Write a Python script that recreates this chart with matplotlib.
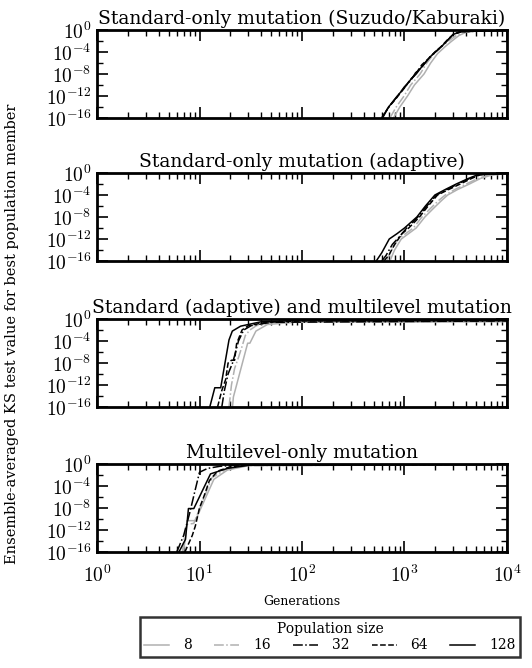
import numpy as np
import matplotlib
matplotlib.use("Agg")
import matplotlib.pyplot as plt
from matplotlib.lines import Line2D
from matplotlib.ticker import FixedLocator, NullFormatter, LogLocator, FuncFormatter

plt.rcParams['font.family'] = ['DejaVu Serif']
plt.rcParams['mathtext.fontset'] = 'cm'

# ---------------- data (generations, log10 of KS value) ----------------
pop_sizes = [8, 16, 32, 64, 128]
titles = ["Standard-only mutation (Suzudo/Kaburaki)",
          "Standard-only mutation (adaptive)",
          "Standard (adaptive) and multilevel mutation",
          "Multilevel-only mutation"]

# Panel 1: Standard-only (Suzudo/Kaburaki)
p1_gen_8 = [780, 900, 1070, 1250, 1550, 1800, 2100, 2500, 2900, 3400, 4000, 5000, 10000]
p1_log_8 = [-16, -14, -12, -10, -8, -6, -4.3, -3, -2, -1, -0.4, -0.15, -0.05]
p1_gen_16 = [720, 830, 990, 1150, 1420, 1650, 1950, 2300, 2700, 3200, 3800, 4800, 10000]
p1_log_16 = [-16, -14, -12, -10, -8, -6, -4.3, -3, -2, -1, -0.4, -0.15, -0.05]
p1_gen_32 = [610, 700, 860, 1000, 1150, 1280, 1500, 1750, 2000, 2300, 2650, 3000, 3600, 10000]
p1_log_32 = [-16, -14, -12, -10.3, -9.2, -7.8, -6.6, -5, -4, -3, -1.8, -0.8, -0.3, -0.05]
p1_gen_64 = [600, 690, 840, 990, 1140, 1260, 1480, 1720, 1980, 2280, 2620, 2980, 3550, 10000]
p1_log_64 = [-16, -14.2, -12.3, -10.6, -9.0, -8.2, -6.3, -5.2, -4, -3, -1.8, -0.8, -0.3, -0.05]
p1_gen_128 = [600, 700, 850, 1000, 1150, 1300, 1500, 1750, 2000, 2300, 2650, 3000, 3500, 10000]
p1_log_128 = [-16, -14, -12, -10.5, -9, -8, -6.5, -5, -4, -3, -1.8, -0.8, -0.3, -0.05]

# Panel 2: Standard-only (adaptive)
p2_gen_8 = [720, 800, 930, 1100, 1300, 1580, 1900, 2300, 2640, 3300, 4300, 5500, 7000, 10000]
p2_log_8 = [-16, -14, -12, -11, -10, -8, -6.5, -5, -4, -3, -2, -1, -0.4, -0.1]
p2_gen_16 = [670, 750, 870, 1030, 1220, 1480, 1780, 2150, 2500, 3100, 4000, 5200, 6600, 10000]
p2_log_16 = [-16, -14, -12, -11, -10, -8, -6.5, -5, -4, -3, -2, -1, -0.4, -0.1]
p2_gen_32 = [600, 660, 760, 900, 1050, 1350, 1650, 2050, 2600, 3300, 4300, 5300, 10000]
p2_log_32 = [-16, -15, -13, -11.5, -10, -8, -6, -4, -3, -2, -1, -0.3, -0.05]
p2_gen_64 = [630, 700, 800, 950, 1100, 1400, 1700, 2100, 2700, 3500, 4500, 5500, 10000]
p2_log_64 = [-16, -15, -13, -11, -10, -8, -6, -4, -3, -2, -1, -0.3, -0.05]
p2_gen_128 = [530, 600, 710, 850, 1000, 1320, 1600, 1980, 2500, 3200, 4200, 5200, 10000]
p2_log_128 = [-16, -14.5, -12, -11, -10, -8, -6, -4, -3, -2, -1, -0.3, -0.05]

# Panel 3: Standard (adaptive) and multilevel
p3_gen_8 = [21, 21.4, 29.5, 31, 35.5, 46, 84, 10000]
p3_log_8 = [-16, -14.2, -4.4, -4.4, -2.2, -1, -0.6, -0.5]
p3_gen_16 = [19.4, 20.5, 22, 24, 26, 28, 31, 36, 55, 10000]
p3_log_16 = [-16, -12, -9, -7, -5, -3, -2, -1.2, -0.6, -0.4]
p3_gen_32 = [16.5, 17.5, 19, 21, 22.5, 24, 27, 32, 50, 10000]
p3_log_32 = [-16, -13, -10, -8, -6, -4, -2, -1.2, -0.6, -0.35]
p3_gen_64 = [15, 16.5, 18, 19, 20.5, 22, 23, 26, 30, 45, 100, 10000]
p3_log_64 = [-16, -13, -11, -8, -7.5, -7.5, -4.5, -2, -1.2, -0.6, -0.35, -0.3]
p3_gen_128 = [12.6, 14.1, 16.1, 19.4, 20.9, 25.2, 40, 80, 10000]
p3_log_128 = [-16, -12.5, -12.5, -3.8, -2.2, -1.3, -0.5, -0.3, -0.25]

# Panel 4: Multilevel-only
p4_gen_8 = [7.0, 7.6, 9.1, 13.8, 18.7, 30, 10000]
p4_log_8 = [-16, -10.3, -10.3, -2.8, -1.1, -0.3, -0.1]
p4_gen_16 = [6.8, 7.4, 8.8, 13.2, 18, 29, 10000]
p4_log_16 = [-16, -11, -10.8, -2.5, -1.0, -0.3, -0.1]
p4_gen_32 = [6.0, 7.0, 8.0, 9.0, 10.0, 12, 16, 25, 10000]
p4_log_32 = [-16, -13, -9, -5, -1.5, -0.8, -0.4, -0.2, -0.05]
p4_gen_64 = [7.2, 8.5, 9.1, 10, 11, 12.5, 15, 20, 30, 10000]
p4_log_64 = [-16, -13, -11.3, -8, -6, -3, -1.3, -0.5, -0.2, -0.05]
p4_gen_128 = [6.3, 7.3, 7.8, 8.8, 12.8, 18.7, 31, 10000]
p4_log_128 = [-16, -13.7, -8.1, -8.1, -1.8, -0.8, -0.2, -0.05]

panels = [
    [(p1_gen_8, p1_log_8), (p1_gen_16, p1_log_16), (p1_gen_32, p1_log_32),
     (p1_gen_64, p1_log_64), (p1_gen_128, p1_log_128)],
    [(p2_gen_8, p2_log_8), (p2_gen_16, p2_log_16), (p2_gen_32, p2_log_32),
     (p2_gen_64, p2_log_64), (p2_gen_128, p2_log_128)],
    [(p3_gen_8, p3_log_8), (p3_gen_16, p3_log_16), (p3_gen_32, p3_log_32),
     (p3_gen_64, p3_log_64), (p3_gen_128, p3_log_128)],
    [(p4_gen_8, p4_log_8), (p4_gen_16, p4_log_16), (p4_gen_32, p4_log_32),
     (p4_gen_64, p4_log_64), (p4_gen_128, p4_log_128)],
]

colors = ['#b0b0b0', '#b0b0b0', 'black', 'black', 'black']
styles = ['-', '-.', '-.', '--', '-']

y_major = [1e-16, 1e-12, 1e-8, 1e-4, 1e0]
y_minor = [1e-14, 1e-10, 1e-6, 1e-2]
x_major = [1e0, 1e1, 1e2, 1e3, 1e4]

pow_fmt = FuncFormatter(lambda v, pos: r'$10^{%d}$' % int(round(np.log10(v))))

# ---------------- figure ----------------
W, H = 532, 668
fig = plt.figure(figsize=(W / 100, H / 100), dpi=100)

left, right = 97 / W, 507 / W
ax_h = 88 / H
tops = [30, 173, 319, 464]

axes = []
for i, top in enumerate(tops):
    ax = fig.add_axes([left, 1 - (top + 88) / H, right - left, ax_h])
    for j, (g, lg) in enumerate(panels[i]):
        ax.plot(g, 10.0 ** np.array(lg), color=colors[j], linestyle=styles[j], lw=1.1)
    ax.set_xscale('log')
    ax.set_yscale('log')
    ax.set_xlim(1e0, 1e4)
    ax.set_ylim(1e-16, 1e0)
    ax.yaxis.set_major_locator(FixedLocator(y_major))
    ax.yaxis.set_major_formatter(pow_fmt)
    ax.yaxis.set_minor_locator(FixedLocator(y_minor))
    ax.yaxis.set_minor_formatter(NullFormatter())
    ax.xaxis.set_major_locator(FixedLocator(x_major))
    ax.xaxis.set_major_formatter(pow_fmt)
    ax.xaxis.set_minor_locator(LogLocator(base=10, subs=np.arange(2, 10), numticks=20))
    ax.xaxis.set_minor_formatter(NullFormatter())
    ax.tick_params(which='both', direction='in', top=True, right=True)
    ax.tick_params(which='major', length=8, width=1.2, labelsize=14, pad=4)
    ax.tick_params(axis='x', which='major', pad=9)
    ax.tick_params(which='minor', length=4, width=1.0)
    for s in ax.spines.values():
        s.set_linewidth(2)
    ax.set_title(titles[i], fontsize=13.5, pad=4)
    if i < 3:
        ax.tick_params(labelbottom=False)
    axes.append(ax)

axes[-1].set_xlabel("Generations", fontsize=9, labelpad=7)
fig.text(12 / W, 0.5, "Ensemble-averaged KS test value for best population member",
         rotation=90, ha='center', va='center', fontsize=10.5)

handles = [Line2D([], [], color=colors[j], linestyle=styles[j], lw=1.1) for j in range(5)]
leg = fig.legend(handles, [str(p) for p in pop_sizes], ncol=5, title="Population size",
                 loc='center', bbox_to_anchor=(330 / W, 1 - 637 / H),
                 fontsize=10, title_fontsize=10, frameon=True, fancybox=False,
                 handlelength=1.8, columnspacing=1.6, borderpad=0.3, labelspacing=0.2,
                 handletextpad=1.0)
leg.get_frame().set_edgecolor('black')
leg.get_frame().set_linewidth(1.8)

fig.savefig("out.png", dpi=100)
